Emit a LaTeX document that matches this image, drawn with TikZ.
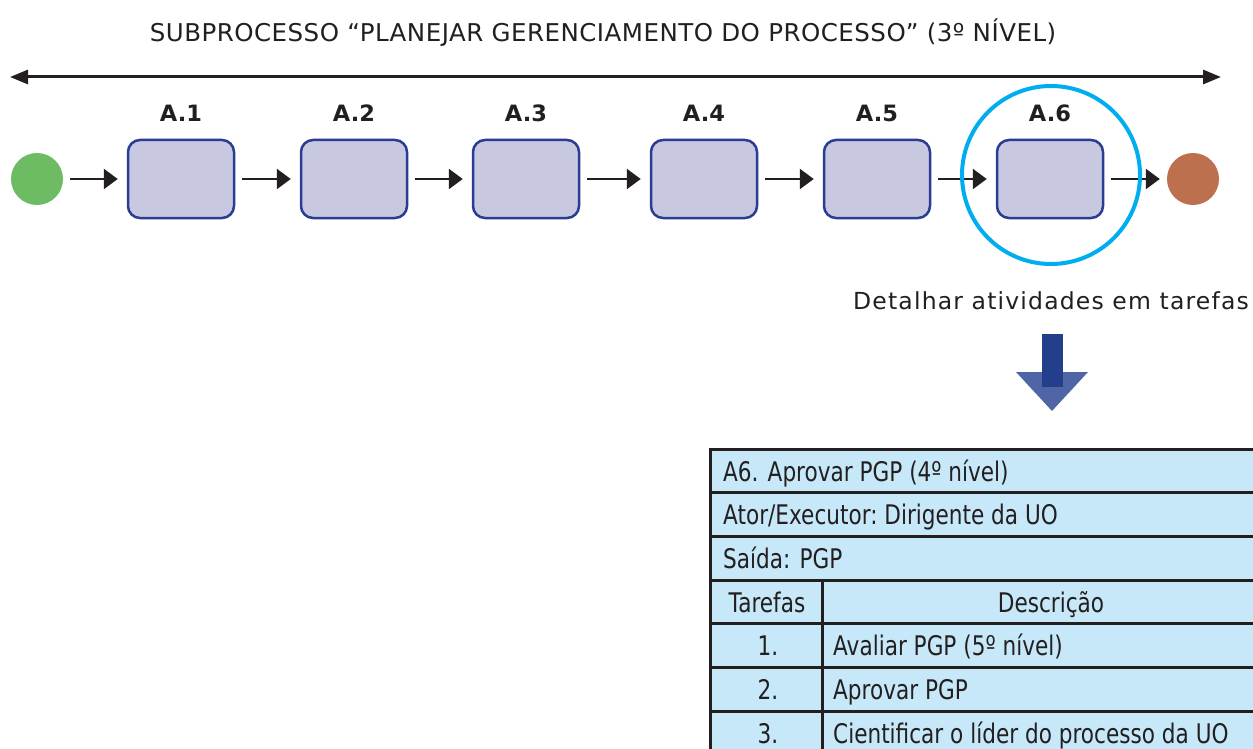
\documentclass[tikz,border=0pt]{standalone}
\usepackage{fontspec}
\setmainfont{DejaVu Sans}
\newfontfamily\narrowfont[FakeStretch=0.8]{DejaVu Sans}
\newfontfamily\widefont[LetterSpace=2]{DejaVu Sans}
\newfontfamily\spacedfont[LetterSpace=5]{DejaVu Sans}
\usetikzlibrary{arrows.meta}
\definecolor{startgreen}{HTML}{6DBB63}
\definecolor{endbrown}{HTML}{BD704D}
\definecolor{boxfill}{HTML}{C8C8E0}
\definecolor{boxline}{HTML}{2A3D94}
\definecolor{focuscyan}{HTML}{00AEEF}
\definecolor{shaftblue}{HTML}{233F8B}
\definecolor{headblue}{HTML}{4F65A6}
\definecolor{cellfill}{HTML}{C6E8F8}
\definecolor{ink}{HTML}{231F20}
\tikzset{
  actbox/.style={draw=boxline, fill=boxfill, line width=2.5pt, rounded corners=12pt,
    minimum width=106pt, minimum height=78pt, inner sep=0pt},
  evt/.style={circle, minimum size=52pt, inner sep=0pt},
  flow/.style={draw=ink, line width=2.5pt, -{Triangle[length=14pt,width=20pt]}},
  actlabel/.style={font=\bfseries\fontsize{22.5}{24}\selectfont, text=ink},
  cell/.style={font=\narrowfont\fontsize{27}{30}\selectfont, text=ink, inner sep=0pt},
  grid/.style={draw=ink, line width=3pt}
}
\begin{document}
\begin{tikzpicture}[x=1pt,y=-1pt]
\clip (0,0) rectangle (1253,749);
\fill[white] (0,0) rectangle (1253,749);

% heading
\node[font=\widefont\fontsize{24.5}{28}\selectfont, text=ink] (title) at (603,33)
  {SUBPROCESSO “PLANEJAR GERENCIAMENTO DO PROCESSO” (3º NÍVEL)};

% span of the subprocess
\coordinate (spanL) at (10,77);
\coordinate (spanR) at (1221,77);
\draw[ink, line width=3pt, {Triangle[length=18pt,width=14pt]}-{Triangle[length=18pt,width=14pt]}] (spanL) -- (spanR);

% events
\node[evt, fill=startgreen] (start) at (37,179) {};
\node[evt, fill=endbrown] (stop) at (1193,179) {};

% activities
\foreach \i/\x in {1/181, 2/354, 3/526, 4/704, 5/877, 6/1050} {
  \node[actbox] (a\i) at (\x,179) {};
  \node[actlabel] (l\i) at (\x,113) {A.\i};
}

% sequence flow
\draw[flow, shorten <=7pt, shorten >=9pt] (start) -- (a1);
\foreach \i/\j in {1/2, 2/3, 3/4, 4/5, 5/6}
  \draw[flow, shorten <=7pt, shorten >=9pt] (a\i) -- (a\j);
\draw[flow, shorten <=7pt, shorten >=7pt] (a6) -- (stop);

% highlight of A.6
\node[circle, draw=focuscyan, line width=4pt, minimum size=178pt, inner sep=0pt] (focus) at (1051,175) {};

% detailing step
\node[font=\spacedfont\fontsize{23.5}{26}\selectfont, text=ink] (detail) at (1051,301) {Detalhar atividades em tarefas};
\fill[headblue] (1016,372) -- (1088,372) -- (1052,411) -- cycle;
\fill[shaftblue] (1042,334) rectangle (1063,387);

% task table
\fill[cellfill] (710,449) rectangle (1290,760);
\foreach \y in {492,536,580,623,667,711}
  \draw[grid] (710,\y) -- (1290,\y);
\draw[grid] (822,580) -- (822,760);
\draw[grid] (710,760) -- (710,449) -- (1290,449) -- (1290,760);

\node[cell, anchor=base west] (r1) at (723,481) {A6. Aprovar PGP (4º nível)};
\node[cell, anchor=base west] (r2) at (723,524) {Ator/Executor:\ Dirigente\ da\ UO};
\node[cell, anchor=base west] (r3) at (723,568) {Saída: PGP};
\node[cell, anchor=base] (h1) at (767,612) {Tarefas};
\node[cell, anchor=base] (h2) at (1051,612) {Descrição};
\node[cell, anchor=base] (n1) at (768,655) {1.};
\node[cell, anchor=base west] (d1) at (833,655) {Avaliar PGP (5º nível)};
\node[cell, anchor=base] (n2) at (768,699) {2.};
\node[cell, anchor=base west] (d2) at (833,699) {Aprovar\ PGP};
\node[cell, anchor=base] (n3) at (768,743) {3.};
\node[cell, anchor=base west] (d3) at (833,743) {Cientificar o líder do processo da UO};
\end{tikzpicture}
\end{document}
